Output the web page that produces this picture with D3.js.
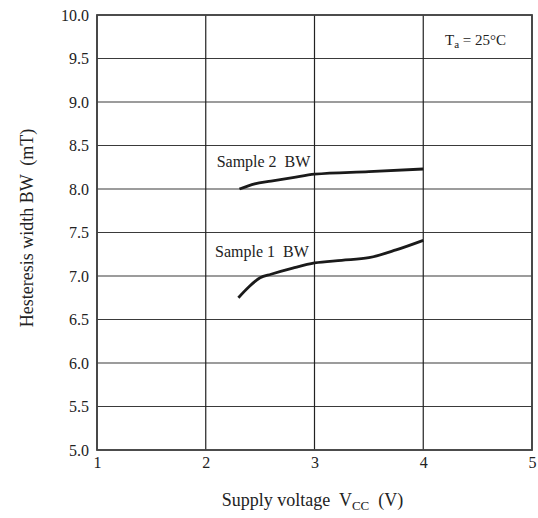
<!DOCTYPE html>
<html>
<head>
<meta charset="utf-8">
<script src="https://cdn.jsdelivr.net/npm/d3@7"></script>
<style>
  body { margin: 0; background: #fff; }
  svg text { font-family: "Liberation Serif", "Times New Roman", serif !important; fill: #222; white-space: pre; }
</style>
</head>
<body>
<div id="chart"></div>
<script>
// 1. DATA
const xTicks = [1, 2, 3, 4, 5]
const yTicks = [5.0, 5.5, 6.0, 6.5, 7.0, 7.5, 8.0, 8.5, 9.0, 9.5, 10.0]

const sample1Vcc = [2.30, 2.40, 2.50, 2.60, 2.80, 3.00, 3.25, 3.50, 3.75, 4.00]
const sample1BW  = [6.75, 6.88, 6.98, 7.02, 7.09, 7.15, 7.18, 7.21, 7.30, 7.41]

const sample2Vcc = [2.31, 2.45, 2.60, 2.80, 3.00, 3.50, 4.00]
const sample2BW  = [8.00, 8.06, 8.09, 8.13, 8.17, 8.20, 8.23]

const seriesLabels = ["Sample 1  BW", "Sample 2  BW"]

// 2. DIMENSIONS
const dimensions = {
    width: 538,
    height: 518,
    margin: { top: 15, right: 6, bottom: 68, left: 97 }
}
dimensions.boundedWidth = dimensions.width - dimensions.margin.left - dimensions.margin.right
dimensions.boundedHeight = dimensions.height - dimensions.margin.top - dimensions.margin.bottom

// 3. DRAW CANVAS
const wrapper = d3.select("#chart")
    .append("svg")
    .attr("width", dimensions.width)
    .attr("height", dimensions.height)

const bounds = wrapper.append("g")
    .attr("transform", `translate(${dimensions.margin.left},${dimensions.margin.top})`)

// 4. SCALES
const xScale = d3.scaleLinear()
    .domain([1, 5])
    .range([0, dimensions.boundedWidth])
const yScale = d3.scaleLinear()
    .domain([5, 10])
    .range([dimensions.boundedHeight, 0])

// 5. GRID
const grid = bounds.append("g")
grid.selectAll(".hgrid")
    .data(yTicks)
  .enter().append("line")
    .attr("x1", 0)
    .attr("x2", dimensions.boundedWidth)
    .attr("y1", d => yScale(d))
    .attr("y2", d => yScale(d))
    .attr("stroke", "#3a3a3a")
    .attr("stroke-width", 1.2)
grid.selectAll(".vgrid")
    .data(xTicks)
  .enter().append("line")
    .attr("x1", d => xScale(d))
    .attr("x2", d => xScale(d))
    .attr("y1", 0)
    .attr("y2", dimensions.boundedHeight)
    .attr("stroke", "#222")
    .attr("stroke-width", 1.2)

bounds.append("rect")
    .attr("width", dimensions.boundedWidth)
    .attr("height", dimensions.boundedHeight)
    .attr("fill", "none")
    .attr("stroke", "#444")
    .attr("stroke-width", 1.8)

// 6. AXES (labels only)
const xAxis = bounds.append("g")
    .attr("transform", `translate(0,${dimensions.boundedHeight})`)
    .call(d3.axisBottom(xScale).tickValues(xTicks).tickFormat(d3.format("d")).tickSize(0).tickPadding(7))
    .attr("font-family", "Liberation Serif, serif")
    .attr("font-size", 16)
xAxis.select(".domain").remove()
xAxis.selectAll("text")
    .style("font-size", "16px")
    .attr("fill", "#222")

const yAxis = bounds.append("g")
    .call(d3.axisLeft(yScale).tickValues(yTicks).tickFormat(d3.format(".1f")).tickSize(0).tickPadding(8))
    .attr("font-family", "Liberation Serif, serif")
    .attr("font-size", 16)
yAxis.select(".domain").remove()
yAxis.selectAll("text")
    .style("font-size", "16px")
    .attr("fill", "#222")

// 7. DATA LINES
const line = d3.line()
    .x(d => xScale(d[0]))
    .y(d => yScale(d[1]))
    .curve(d3.curveMonotoneX)

const series = [
    { label: seriesLabels[0], points: d3.zip(sample1Vcc, sample1BW) },
    { label: seriesLabels[1], points: d3.zip(sample2Vcc, sample2BW) }
]

bounds.selectAll(".series")
    .data(series)
  .enter().append("path")
    .attr("d", d => line(d.points))
    .attr("fill", "none")
    .attr("stroke", "#1a1a1a")
    .attr("stroke-width", 2.8)

// series labels
bounds.append("text")
    .attr("x", xScale(2.085))
    .attr("y", yScale(7.22))
    .style("font-size", "16px")
    .text(seriesLabels[0])
bounds.append("text")
    .attr("x", xScale(2.10))
    .attr("y", yScale(8.256))
    .style("font-size", "16px")
    .text(seriesLabels[1])

// Ta annotation
const ta = bounds.append("text")
    .attr("x", xScale(4.2))
    .attr("y", yScale(9.655))
    .style("font-size", "15px")
ta.append("tspan").text("T")
ta.append("tspan").attr("dy", 3).style("font-size", "11px").text("a")
ta.append("tspan").attr("dy", -3).text(" = 25°C")

// axis titles
const xTitle = wrapper.append("text")
    .attr("x", dimensions.margin.left + dimensions.boundedWidth / 2 - 2)
    .attr("y", 506)
    .attr("text-anchor", "middle")
    .style("font-size", "18px")
xTitle.append("tspan").text("Supply voltage  V")
xTitle.append("tspan").attr("dy", 4).style("font-size", "13px").text("CC")
xTitle.append("tspan").attr("dy", -4).text("  (V)")

wrapper.append("text")
    .attr("transform", "translate(33,228) rotate(-90)")
    .attr("text-anchor", "middle")
    .style("font-size", "18px")
    .text("Hesteresis width BW  (mT)")
</script>
</body>
</html>
